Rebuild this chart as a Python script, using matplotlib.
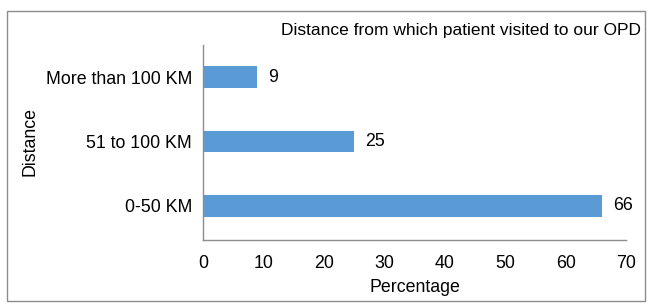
import matplotlib.pyplot as plt
import matplotlib.patches as patches

plt.rcParams['font.family'] = ['Liberation Sans', 'DejaVu Sans']

categories = ['0-50 KM', '51 to 100 KM', 'More than 100 KM']
percentages = [66, 25, 9]
x_ticks = [0, 10, 20, 30, 40, 50, 60, 70]

fig = plt.figure(figsize=(6.5, 3.07), dpi=100)
ax = fig.add_axes([203 / 650, 1 - 240 / 307, (626 - 203) / 650, (240 - 45) / 307])

bars = ax.barh(categories, percentages, height=0.34, color='#5B9BD5')
for bar, val in zip(bars, percentages):
    ax.text(bar.get_width() + 1.8, bar.get_y() + bar.get_height() / 2, str(val),
            va='center', ha='left', fontsize=12.8)

ax.set_xlim(0, 70)
ax.set_ylim(-0.53, 2.5)
ax.set_xticks(x_ticks)
ax.tick_params(axis='both', length=0, labelsize=12.8)
ax.tick_params(axis='x', pad=11)
ax.tick_params(axis='y', pad=8)
for side in ['top', 'right']:
    ax.spines[side].set_visible(False)
for side in ['left', 'bottom']:
    ax.spines[side].set_color('#8c8c8c')
    ax.spines[side].set_linewidth(1)

ax.set_xlabel('Percentage', fontsize=12.8, labelpad=5)
fig.text(30 / 650, 1 - 142 / 307, 'Distance', rotation=90, va='center', ha='center', fontsize=12.8)
fig.text(641 / 650, 1 - 31 / 307, 'Distance from which patient visited to our OPD',
         ha='right', va='center', fontsize=12.5)

fig.patches.append(patches.Rectangle((7 / 650, 1 - 301 / 307), 638 / 650, 290 / 307,
                                     transform=fig.transFigure, fill=False,
                                     edgecolor='#8c8c8c', linewidth=1))

fig.savefig('out.png', dpi=100)
